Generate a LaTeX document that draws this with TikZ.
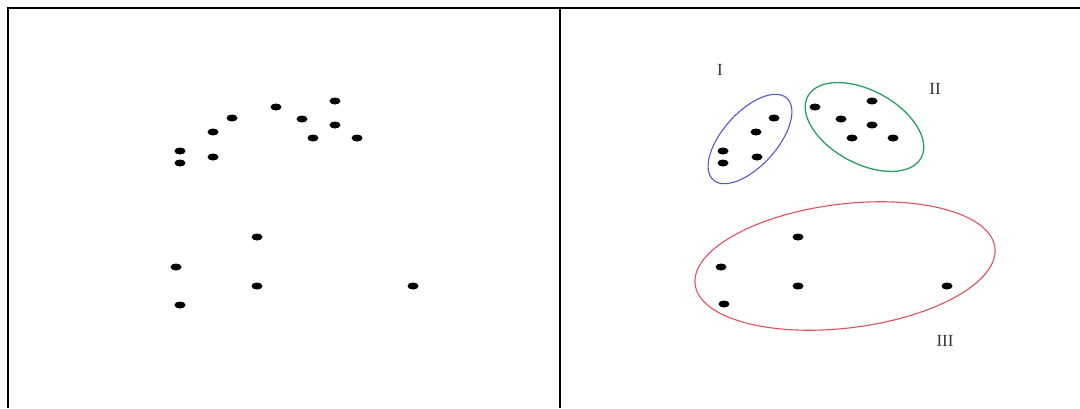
\documentclass[tikz,border=0pt]{standalone}
\usepackage{fontspec}
\setmainfont{Liberation Serif}
\usepackage{tikz}
\usetikzlibrary{shapes.geometric}
\definecolor{clusterBlue}{RGB}{88,88,205}
\definecolor{clusterGreen}{RGB}{40,160,100}
\definecolor{clusterRed}{RGB}{225,80,95}

\begin{document}
\begin{tikzpicture}[
      x=1pt, y=-1pt,
      dot/.style={ellipse, fill=black, inner sep=0pt, minimum width=11pt, minimum height=7pt},
      frameline/.style={line width=2pt, black},
      roman/.style={font=\fontsize{17}{19}\selectfont, text=black!80, inner sep=0pt},
      clusterI/.style={draw=clusterBlue, line width=1.1pt},
      clusterII/.style={draw=clusterGreen, line width=1.3pt},
      clusterIII/.style={draw=clusterRed, line width=1.1pt}
    ]
  \useasboundingbox (0,0) rectangle (1080,408);

  % --- Rahmen ---
  \draw[frameline] (7,8) -- (1080,8);
  \draw[frameline] (8,8) -- (8,408);
  \draw[frameline] (560,8) -- (560,408);

  % --- Linke Seite: ungruppierte Punkte ---
  \foreach \x/\y [count=\i] in {180/151, 180/163, 213/132, 213/157, 232/118,
      276/107, 302/119, 335/101, 335/125, 313/138, 357/138,
      257/237, 176/267, 257/286, 180/305, 413/286}
    {\node[dot] (l\i) at (\x,\y) {};}

  % --- Rechte Seite: dieselben Punkte, in Klassen ---
  \foreach \x/\y [count=\i] in {723/151, 723/163, 756/132, 757/157, 774/118,
      815/107, 841/119, 872/101, 872/125, 852/138, 893/138,
      798/237, 721/267, 798/286, 724/304, 947/286}
    {\node[dot] (r\i) at (\x,\y) {};}

  % Klassen
  \draw[clusterI, rotate around={48:(750,139)}] (750,139) ellipse (55pt and 27pt);
  \draw[clusterII, rotate around={-28.5:(864.5,127)}] (864.5,127) ellipse (64.5pt and 36.5pt);
  \draw[clusterIII, rotate around={7:(845,266)}] (845,266) ellipse (151pt and 62pt);

  \node[roman] (lblI)   at (720,70)  {I};
  \node[roman] (lblII)  at (935,89)  {II};
  \node[roman] (lblIII) at (945,341) {III};
\end{tikzpicture}
\end{document}
